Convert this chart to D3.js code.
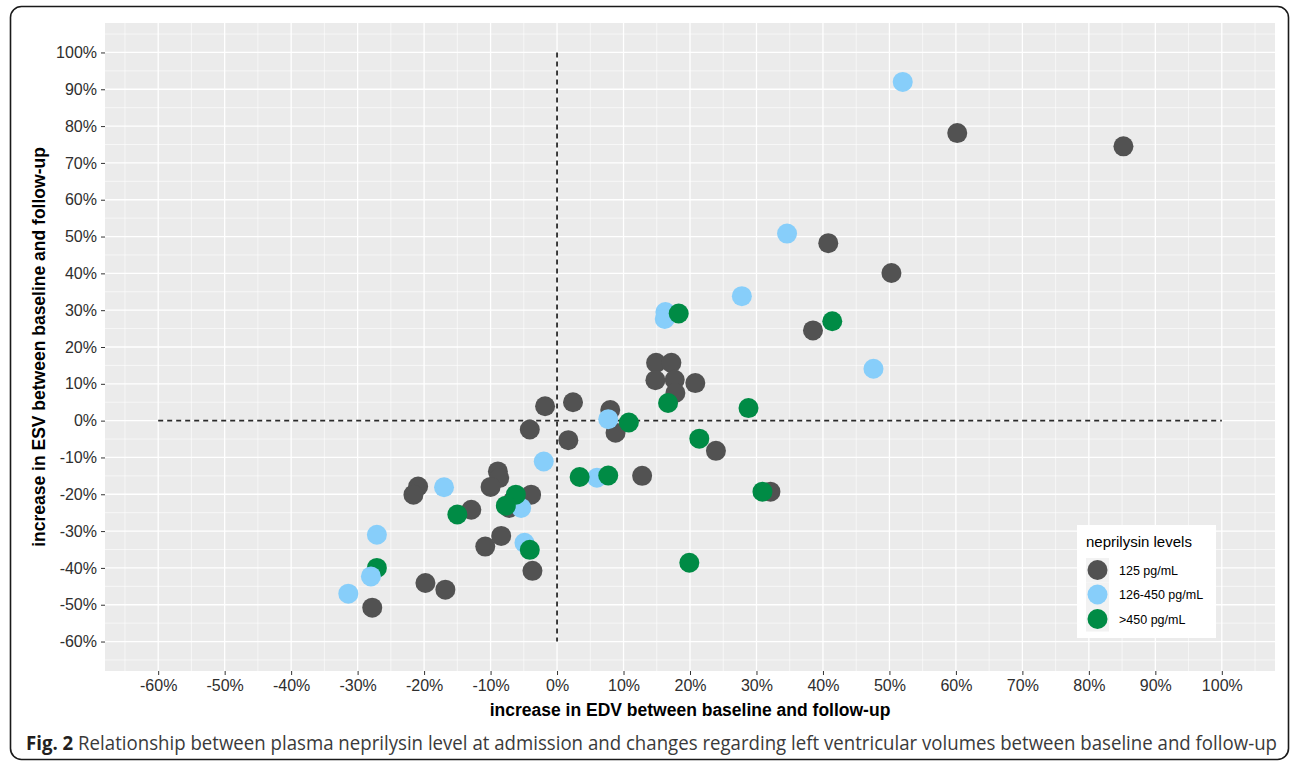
<!DOCTYPE html>
<html>
<head>
<meta charset="utf-8">
<script src="https://cdn.jsdelivr.net/npm/d3@7"></script>
<style>
  html, body { margin: 0; padding: 0; background: #fff; }
  svg { display: block; }
</style>
</head>
<body>
<div id="chart"></div>
<script>
// Data: [EDV change %, ESV change %]
const groupLabels = ['125 pg/mL', '126-450 pg/mL', '>450 pg/mL'];
const groupColors = ['#525252', '#87CEFA', '#008B45'];

const lowLevel = [
    [60.2, 78.1], [85.2, 74.5], [40.8, 48.2], [50.3, 40.1], [38.5, 24.5],
    [14.9, 15.7], [17.2, 15.7], [14.8, 11.0], [17.7, 11.1], [17.8, 7.5],
    [20.8, 10.2], [8.0, 2.9], [8.8, -3.3], [23.9, -8.2], [32.1, -19.3],
    [12.8, -15.0], [-1.8, 3.9], [2.4, 5.0], [-4.1, -2.4], [1.7, -5.3],
    [-8.9, -13.8], [-8.7, -15.6], [-10.0, -18.0], [-20.9, -17.9], [-21.6, -20.1],
    [-12.9, -24.2], [-3.9, -20.1], [-6.7, -21.9], [-7.2, -23.7], [-10.8, -34.2],
    [-8.4, -31.3], [-3.7, -40.8], [-19.8, -44.1], [-16.8, -45.9], [-27.8, -50.8]
];
const midLevel = [
    [52.0, 92.0], [34.6, 50.8], [27.8, 33.8], [16.3, 29.5], [16.2, 27.6],
    [47.6, 14.1], [7.7, 0.4], [6.0, -15.5], [-2.0, -11.1], [-17.0, -18.1],
    [-5.4, -23.7], [-4.9, -33.2], [-27.1, -31.0], [-31.4, -47.0]
];
const highLevel = [
    [18.3, 29.1], [41.4, 27.0], [16.7, 4.8], [28.8, 3.4], [10.8, -0.5],
    [21.4, -4.9], [30.9, -19.3], [19.9, -38.6], [7.7, -14.9], [3.4, -15.3],
    [-15.0, -25.5], [-6.2, -20.1], [-7.7, -23.1], [-4.1, -35.1], [-27.1, -40.0]
];
// this blue one sits on top of the green point next to it
const midLevelTop = [[-28.0, -42.3]];

const xTicks = d3.range(-60, 101, 10);
const yTicks = d3.range(-60, 101, 10);
const minorTicks = d3.range(-65, 106, 10);

const width = 1292;
const height = 762;
const font = '"Liberation Sans", Arial, Helvetica, sans-serif';

const svg = d3.select('#chart').append('svg')
    .attr('width', width)
    .attr('height', height);

// figure frame with rounded corners
svg.append('rect')
    .attr('x', 10.5)
    .attr('y', 6.5)
    .attr('width', 1278)
    .attr('height', 753)
    .attr('rx', 11)
    .attr('fill', 'none')
    .attr('stroke', '#1a1a1a')
    .attr('stroke-width', 1.6);

const panel = { left: 105, right: 1275, top: 23, bottom: 671 };

const x = d3.scaleLinear().domain([-68, 108]).range([panel.left, panel.right]);
const y = d3.scaleLinear().domain([-68, 108]).range([panel.bottom, panel.top]);

// panel background
svg.append('rect')
    .attr('x', panel.left)
    .attr('y', panel.top)
    .attr('width', panel.right - panel.left)
    .attr('height', panel.bottom - panel.top)
    .attr('fill', '#EBEBEB');

// grid lines
const grid = svg.append('g');
grid.selectAll('.vminor').data(minorTicks).join('line')
    .attr('x1', d => x(d)).attr('x2', d => x(d))
    .attr('y1', panel.top).attr('y2', panel.bottom)
    .attr('stroke', '#fff').attr('stroke-width', 0.6);
grid.selectAll('.hminor').data(minorTicks).join('line')
    .attr('y1', d => y(d)).attr('y2', d => y(d))
    .attr('x1', panel.left).attr('x2', panel.right)
    .attr('stroke', '#fff').attr('stroke-width', 0.6);
grid.selectAll('.vmajor').data(xTicks).join('line')
    .attr('x1', d => x(d)).attr('x2', d => x(d))
    .attr('y1', panel.top).attr('y2', panel.bottom)
    .attr('stroke', '#fff').attr('stroke-width', 1.3);
grid.selectAll('.hmajor').data(yTicks).join('line')
    .attr('y1', d => y(d)).attr('y2', d => y(d))
    .attr('x1', panel.left).attr('x2', panel.right)
    .attr('stroke', '#fff').attr('stroke-width', 1.3);

// dashed reference lines at zero
svg.append('line')
    .attr('x1', x(0)).attr('x2', x(0))
    .attr('y1', y(100)).attr('y2', y(-60))
    .attr('stroke', '#2b2b2b').attr('stroke-width', 1.8)
    .attr('stroke-dasharray', '5,4');
svg.append('line')
    .attr('x1', x(-60)).attr('x2', x(100))
    .attr('y1', y(0)).attr('y2', y(0))
    .attr('stroke', '#2b2b2b').attr('stroke-width', 1.8)
    .attr('stroke-dasharray', '5,4');

// points
const series = [
    { data: lowLevel, color: groupColors[0] },
    { data: midLevel, color: groupColors[1] },
    { data: highLevel, color: groupColors[2] },
    { data: midLevelTop, color: groupColors[1] }
];
const pts = svg.append('g');
series.forEach(s => {
    pts.append('g').selectAll('circle')
        .data(s.data)
        .join('circle')
        .attr('cx', d => x(d[0]))
        .attr('cy', d => y(d[1]))
        .attr('r', 10)
        .attr('fill', s.color);
});

// axes
const xAxis = svg.append('g')
    .attr('transform', `translate(0,${panel.bottom})`)
    .call(d3.axisBottom(x).tickValues(xTicks).tickSize(4).tickPadding(5).tickFormat(d => d + '%'));
const yAxis = svg.append('g')
    .attr('transform', `translate(${panel.left},0)`)
    .call(d3.axisLeft(y).tickValues(yTicks).tickSize(4).tickPadding(4).tickFormat(d => d + '%'));

[xAxis, yAxis].forEach(ax => {
    ax.select('.domain').remove();
    ax.selectAll('.tick line').attr('stroke', '#333').attr('stroke-width', 1);
    ax.selectAll('.tick text')
        .attr('fill', '#2e2e2e')
        .style('font-family', font)
        .style('font-size', '16px');
});

// axis titles
svg.append('text')
    .attr('x', (panel.left + panel.right) / 2)
    .attr('y', 716)
    .attr('text-anchor', 'middle')
    .style('font-family', font)
    .style('font-size', '17.5px')
    .style('font-weight', 'bold')
    .attr('fill', '#000')
    .text('increase in EDV between baseline and follow-up');

svg.append('text')
    .attr('transform', `translate(45,${(panel.top + panel.bottom) / 2}) rotate(-90)`)
    .attr('text-anchor', 'middle')
    .style('font-family', font)
    .style('font-size', '17.5px')
    .style('font-weight', 'bold')
    .attr('fill', '#000')
    .text('increase in ESV between baseline and follow-up');

// legend
const legend = svg.append('g').attr('transform', 'translate(1077,525)');
legend.append('rect')
    .attr('width', 139)
    .attr('height', 113)
    .attr('fill', '#fff');
legend.append('text')
    .attr('x', 9)
    .attr('y', 22)
    .style('font-family', font)
    .style('font-size', '15px')
    .attr('fill', '#000')
    .text('neprilysin levels');

const keys = legend.selectAll('.key')
    .data(groupLabels)
    .join('g')
    .attr('transform', (d, i) => `translate(9,${33 + i * 24.5})`);
keys.append('rect')
    .attr('width', 23)
    .attr('height', 24.5)
    .attr('fill', '#F2F2F2');
keys.append('circle')
    .attr('cx', 11.5)
    .attr('cy', 12)
    .attr('r', 10)
    .attr('fill', (d, i) => groupColors[i]);
keys.append('text')
    .attr('x', 33)
    .attr('y', 16.5)
    .style('font-family', font)
    .style('font-size', '12.5px')
    .attr('fill', '#000')
    .text(d => d);

// caption: shrink the font so it fits, then stretch it back up vertically
const capGroup = svg.append('g');
const caption = capGroup.append('text')
    .attr('x', 0)
    .attr('y', 0)
    .style('font-family', '"Open Sans", "Noto Sans", sans-serif')
    .style('font-size', '19.5px');
caption.append('tspan')
    .style('font-weight', 'bold')
    .attr('fill', '#231f20')
    .text('Fig. 2');
caption.append('tspan')
    .attr('fill', '#3a3a3a')
    .text(' Relationship between plasma neprilysin level at admission and changes regarding left ventricular volumes between baseline and follow-up');

const capWidth = caption.node().getComputedTextLength();
const targetWidth = 1252;
let fs = 19.5;
if (capWidth > targetWidth) {
    fs = 19.5 * targetWidth / capWidth;
    caption.style('font-size', fs.toFixed(2) + 'px');
}
capGroup.attr('transform', `translate(26,750) scale(1,${(19.5 / fs).toFixed(3)})`);
</script>
</body>
</html>
